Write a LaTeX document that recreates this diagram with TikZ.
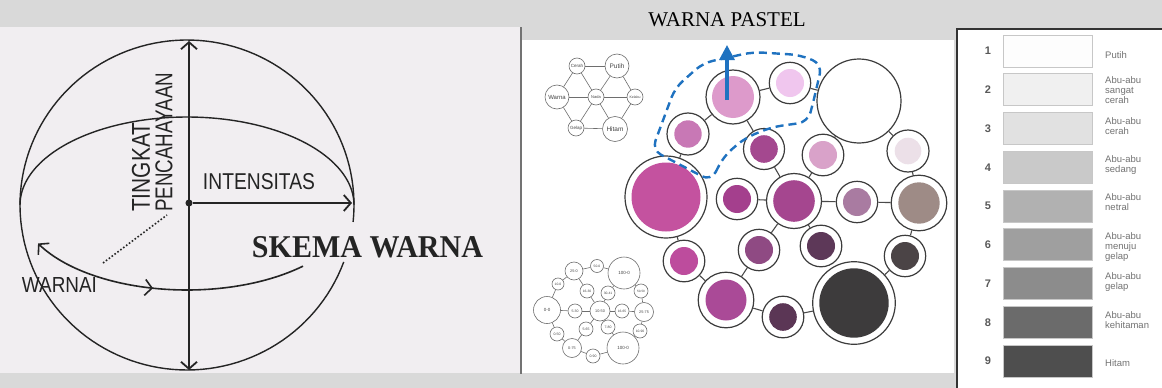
\documentclass[tikz,border=0pt]{standalone}
\usepackage{fontspec}
\setmainfont{Liberation Serif}
\newfontfamily\arial{Liberation Sans}
\usetikzlibrary{arrows.meta,decorations.markings}

\definecolor{bggray}{HTML}{D9D9D9}
\definecolor{panelone}{HTML}{F1EEF1}
\definecolor{inkdark}{HTML}{242424}
\definecolor{pastelblue}{HTML}{1F72C0}
\definecolor{bubedge}{HTML}{3C3C3C}
\definecolor{linkgray}{HTML}{4A4A4A}
\definecolor{minigray}{HTML}{6E6E6E}
\definecolor{minitext}{HTML}{444444}
\definecolor{cA}{HTML}{DD9ACB}
\definecolor{cB}{HTML}{F0C6EE}
\definecolor{cD}{HTML}{C878B5}
\definecolor{cE}{HTML}{C4529F}
\definecolor{cF}{HTML}{A4488F}
\definecolor{cG}{HTML}{D9A2C9}
\definecolor{cH}{HTML}{ECE0E8}
\definecolor{cI}{HTML}{A43F8D}
\definecolor{cJ}{HTML}{A5468F}
\definecolor{cK}{HTML}{A97BA1}
\definecolor{cL}{HTML}{9E8B86}
\definecolor{cM}{HTML}{BD4C9D}
\definecolor{cN}{HTML}{8F4A83}
\definecolor{cO}{HTML}{5D3858}
\definecolor{cP}{HTML}{4B4446}
\definecolor{cQ}{HTML}{AA4A97}
\definecolor{cR}{HTML}{5B3655}
\definecolor{cS}{HTML}{3D3B3C}
\definecolor{gA}{HTML}{FDFDFD}
\definecolor{gB}{HTML}{F0F0F0}
\definecolor{gC}{HTML}{E1E1E1}
\definecolor{gD}{HTML}{C9C9C9}
\definecolor{gE}{HTML}{B1B1B1}
\definecolor{gF}{HTML}{9F9F9F}
\definecolor{gG}{HTML}{8C8C8C}
\definecolor{gH}{HTML}{6B6B6B}
\definecolor{gI}{HTML}{4E4E4E}

\tikzset{
  sph/.style={draw=inkdark, line width=1.4pt},
  axisline/.style={draw=inkdark, line width=1.8pt},
  handtext/.style={text=inkdark, inner sep=0pt, font=\arial},
  bubout/.style={circle, draw=bubedge, line width=1.2pt, fill=white, inner sep=0pt},
  bubin/.style={circle, inner sep=0pt, draw=none},
  bublink/.style={draw=linkgray, line width=1.1pt},
  minibub/.style={circle, draw=minigray, line width=0.6pt, fill=white, inner sep=0pt, text=minitext},
  minilink/.style={draw=minigray, line width=0.6pt},
  pasteldash/.style={draw=pastelblue, line width=2.4pt, dash pattern=on 8pt off 5pt},
  grayrect/.style={draw=black!22, line width=0.6pt, minimum width=89pt, minimum height=32pt, inner sep=0pt},
  numtext/.style={font=\arial\bfseries\fontsize{11}{11}\selectfont, text=black!65, inner sep=0pt},
  graylabel/.style={font=\arial\fontsize{9.5}{10}\selectfont, text=black!55, align=left, anchor=west, inner sep=0pt},
  barb/.tip={Straight Barb[length=7pt,width=16pt]},
}

\newcommand\mybub[6]{%
  \node[bubout, minimum size=2*#4 pt] (#1) at (#2,#3) {};
  \node[bubin, minimum size=2*#5 pt, fill=#6] (#1in) at (#2,#3) {};
}
\newcommand\minib[6]{%
  \node[minibub, minimum size=2*#4 pt, font=\arial\fontsize{#6}{#6}\selectfont] (#1) at (#2,#3) {#5};
}

\begin{document}
\begin{tikzpicture}[x=1pt,y=-1pt]
\useasboundingbox (0,0) rectangle (1162,388);
\fill[bggray] (0,0) rectangle (1162,388);

% ---------- panel 1 : sphere ----------
\fill[panelone] (0,27) rectangle (520,373);
\draw[sph] plot[domain=20.2:365.9, samples=140] ({187+167*cos(\x)},{205+165*sin(\x)});
\draw[sph] plot[domain=180:360, samples=90] ({187+167*cos(\x)},{205+88*sin(\x)});
\draw[sph, line width=1.6pt, barb-,
      postaction={decorate},
      decoration={markings, mark=at position 0.45 with {\arrow{barb}}}]
  plot[domain=26.9:134, samples=70] ({187-167*cos(\x)},{205+85*sin(\x)});

\coordinate (vtop) at (189,41);
\coordinate (vbot) at (189,370);
\draw[axisline, barb-barb] (vtop) -- (vbot);
\node[circle, draw=inkdark, fill=inkdark, line width=1pt, minimum size=6pt, inner sep=0pt] (origin) at (189,203) {};
\coordinate (hright) at (352,203);
\draw[axisline, -barb] (origin) -- (hright);

\coordinate (dotA) at (103,263);
\coordinate (dotB) at (167,215);
\draw[inkdark, line width=1.6pt, dotted] (dotA) -- (dotB);

\node[handtext, rotate=90, anchor=west] (tingkat) at (141,212) {\resizebox{89pt}{18pt}{TINGKAT}};
\node[handtext, rotate=90, anchor=west] (pencah) at (164,212) {\resizebox{139pt}{17pt}{PENCAHAYAAN}};
\node[handtext] (intens) at (259,182) {\resizebox{112pt}{16pt}{INTENSITAS}};
\node[handtext] (warnai) at (59.5,284.5) {\resizebox{75pt}{15pt}{WARNAI}};
\node[text=inkdark, inner sep=0pt] (skema) at (367.5,247.5) {\resizebox{231pt}{21pt}{\bfseries SKEMA WARNA}};

% ---------- panel 2 : pastel bubbles ----------
\fill[white] (522,40) rectangle (954,373);
\draw[black!55, line width=1.5pt] (521,27) -- (521,374);
\node[inner sep=0pt, font=\fontsize{21}{21}\selectfont] (title) at (727,20) {WARNA PASTEL};

% mini hexagon
\minib{cerah}{577}{66}{8}{Cerah}{4.5}
\minib{putih}{617}{66}{12}{Putih}{6.5}
\minib{warna}{557}{97}{12}{Warna}{6}
\minib{nada}{596}{97}{8}{Nada}{4}
\minib{kelabu}{635}{97}{8}{Kelabu}{3.5}
\minib{gelap}{576}{128}{8}{Gelap}{4.5}
\minib{hitam}{615}{129}{12.5}{Hitam}{6.5}
\foreach \p/\q in {cerah/putih, cerah/warna, cerah/nada, putih/nada, putih/kelabu, warna/nada,
                   nada/kelabu, warna/gelap, nada/gelap, nada/hitam, kelabu/hitam, gelap/hitam}
  \draw[minilink] (\p) -- (\q);

% mini numbers
\minib{zz}{547}{310}{13.5}{0-0}{4.5}
\minib{tenz}{558}{284}{6}{10-0}{3.3}
\minib{twfz}{574}{271}{9}{25-0}{3.8}
\minib{fifz}{597}{266}{6.5}{50-0}{3.3}
\minib{hunA}{624}{273}{16}{100-0}{4.5}
\minib{sxth}{587}{291}{7}{16-30}{3.3}
\minib{thrf}{608}{293}{7}{30-41}{3.3}
\minib{fifo}{641}{291}{7}{50-50}{3.1}
\minib{fvth}{575}{311}{7}{5-30}{3.5}
\minib{tenf}{600}{311}{10}{10-50}{3.8}
\minib{sxsf}{622}{311}{7}{16-65}{3.3}
\minib{twsf}{644}{312}{9.5}{25-75}{3.8}
\minib{fvsf}{586}{329}{7}{5-65}{3.5}
\minib{svei}{608}{327}{7}{7-80}{3.5}
\minib{tenn}{640}{331}{7}{10-90}{3.3}
\minib{zfif}{557}{334}{7}{0-50}{3.5}
\minib{zsvf}{572}{348}{9.5}{0-75}{3.8}
\minib{znin}{593}{356}{7}{0-90}{3.5}
\minib{hunB}{623}{348}{16}{100-0}{4.5}
\foreach \p/\q in {zz/tenz, tenz/twfz, twfz/fifz, fifz/hunA, twfz/sxth, sxth/tenf, tenf/thrf, thrf/hunA,
                   hunA/fifo, fifo/twsf, zz/fvth, fvth/tenf, tenf/sxsf, sxsf/twsf, twsf/tenn, tenn/hunB,
                   tenf/fvsf, tenf/svei, svei/hunB, fvsf/zsvf, zz/zfif, zfif/zsvf, zsvf/znin, znin/hunB}
  \draw[minilink] (\p) -- (\q);

% main bubbles
\mybub{ba}{733}{97}{27}{21}{cA}
\mybub{bb}{790}{83}{20.7}{14}{cB}
\node[bubout, minimum size=84pt] (bc) at (859,101) {};
\mybub{bd}{688}{134}{21}{13.7}{cD}
\mybub{be}{666}{197}{41}{34.5}{cE}
\mybub{bf}{764}{149}{20.5}{13.8}{cF}
\mybub{bg}{823}{155}{20.8}{14}{cG}
\mybub{bh}{908}{151}{21}{13.3}{cH}
\mybub{bi}{737}{199}{20.7}{14}{cI}
\mybub{bj}{794}{201}{27.5}{20.8}{cJ}
\mybub{bk}{857}{202}{20.7}{14}{cK}
\mybub{bl}{919}{203}{27.8}{20.7}{cL}
\mybub{bm}{684}{261}{20.8}{14}{cM}
\mybub{bn}{759}{250}{20.7}{14}{cN}
\mybub{bo}{821}{246}{20.8}{14}{cO}
\mybub{bp}{905}{256}{20.7}{14}{cP}
\mybub{bq}{726}{300}{27.8}{20.5}{cQ}
\mybub{br}{783}{317}{20.8}{13.8}{cR}
\mybub{bs}{854}{303}{41.3}{34.7}{cS}
\foreach \p/\q in {ba/bb, bb/bc, ba/bd, ba/bf, bd/be, bc/bg, bc/bh, bf/bj, bg/bj, bh/bl, bi/bj, bj/bk,
                   bk/bl, be/bm, bj/bn, bj/bo, bl/bp, bm/bq, bn/bq, bq/br, br/bs, bp/bs}
  \draw[bublink] (\p) -- (\q);

% pastel outline and arrow
\draw[pasteldash, rounded corners=10pt] (711,181) -- (724,156) -- (745,138) -- (772,127) -- (808,122)
  -- (815,95) -- (822,64) -- (800,55) -- (753,52) -- (703,63) -- (675,88) -- (652,150) -- cycle;
\coordinate (arrtail) at (727,100);
\coordinate (arrtip) at (727,45);
\draw[pastelblue, line width=3.2pt, -{Triangle[length=15pt,width=15pt]}] (arrtail) -- (arrtip);

% ---------- panel 3 : gray scale ----------
\fill[white] (957,29) rectangle (1162,388);
\draw[black!80, line width=1.2pt] (957,388) -- (957,29) -- (1162,29);
\foreach \i/\c in {1/gA, 2/gB, 3/gC, 4/gD, 5/gE, 6/gF, 7/gG, 8/gH, 9/gI} {
  \node[grayrect, fill=\c] (rect\i) at (1047.5,{51+(\i-1)*38.75}) {};
  \node[numtext] (num\i) at (988,{51+(\i-1)*38.75}) {\i};
}
\node[graylabel] (lab1) at (1105,55) {Putih};
\node[graylabel] (lab2) at (1105,90) {Abu-abu\\sangat\\cerah};
\node[graylabel] (lab3) at (1105,126) {Abu-abu\\cerah};
\node[graylabel] (lab4) at (1105,165) {Abu-abu\\sedang};
\node[graylabel] (lab5) at (1105,202) {Abu-abu\\netral};
\node[graylabel] (lab6) at (1105,247) {Abu-abu\\menuju\\gelap};
\node[graylabel] (lab7) at (1105,282) {Abu-abu\\gelap};
\node[graylabel] (lab8) at (1105,320) {Abu-abu\\kehitaman};
\node[graylabel] (lab9) at (1105,363) {Hitam};
\end{tikzpicture}
\end{document}
